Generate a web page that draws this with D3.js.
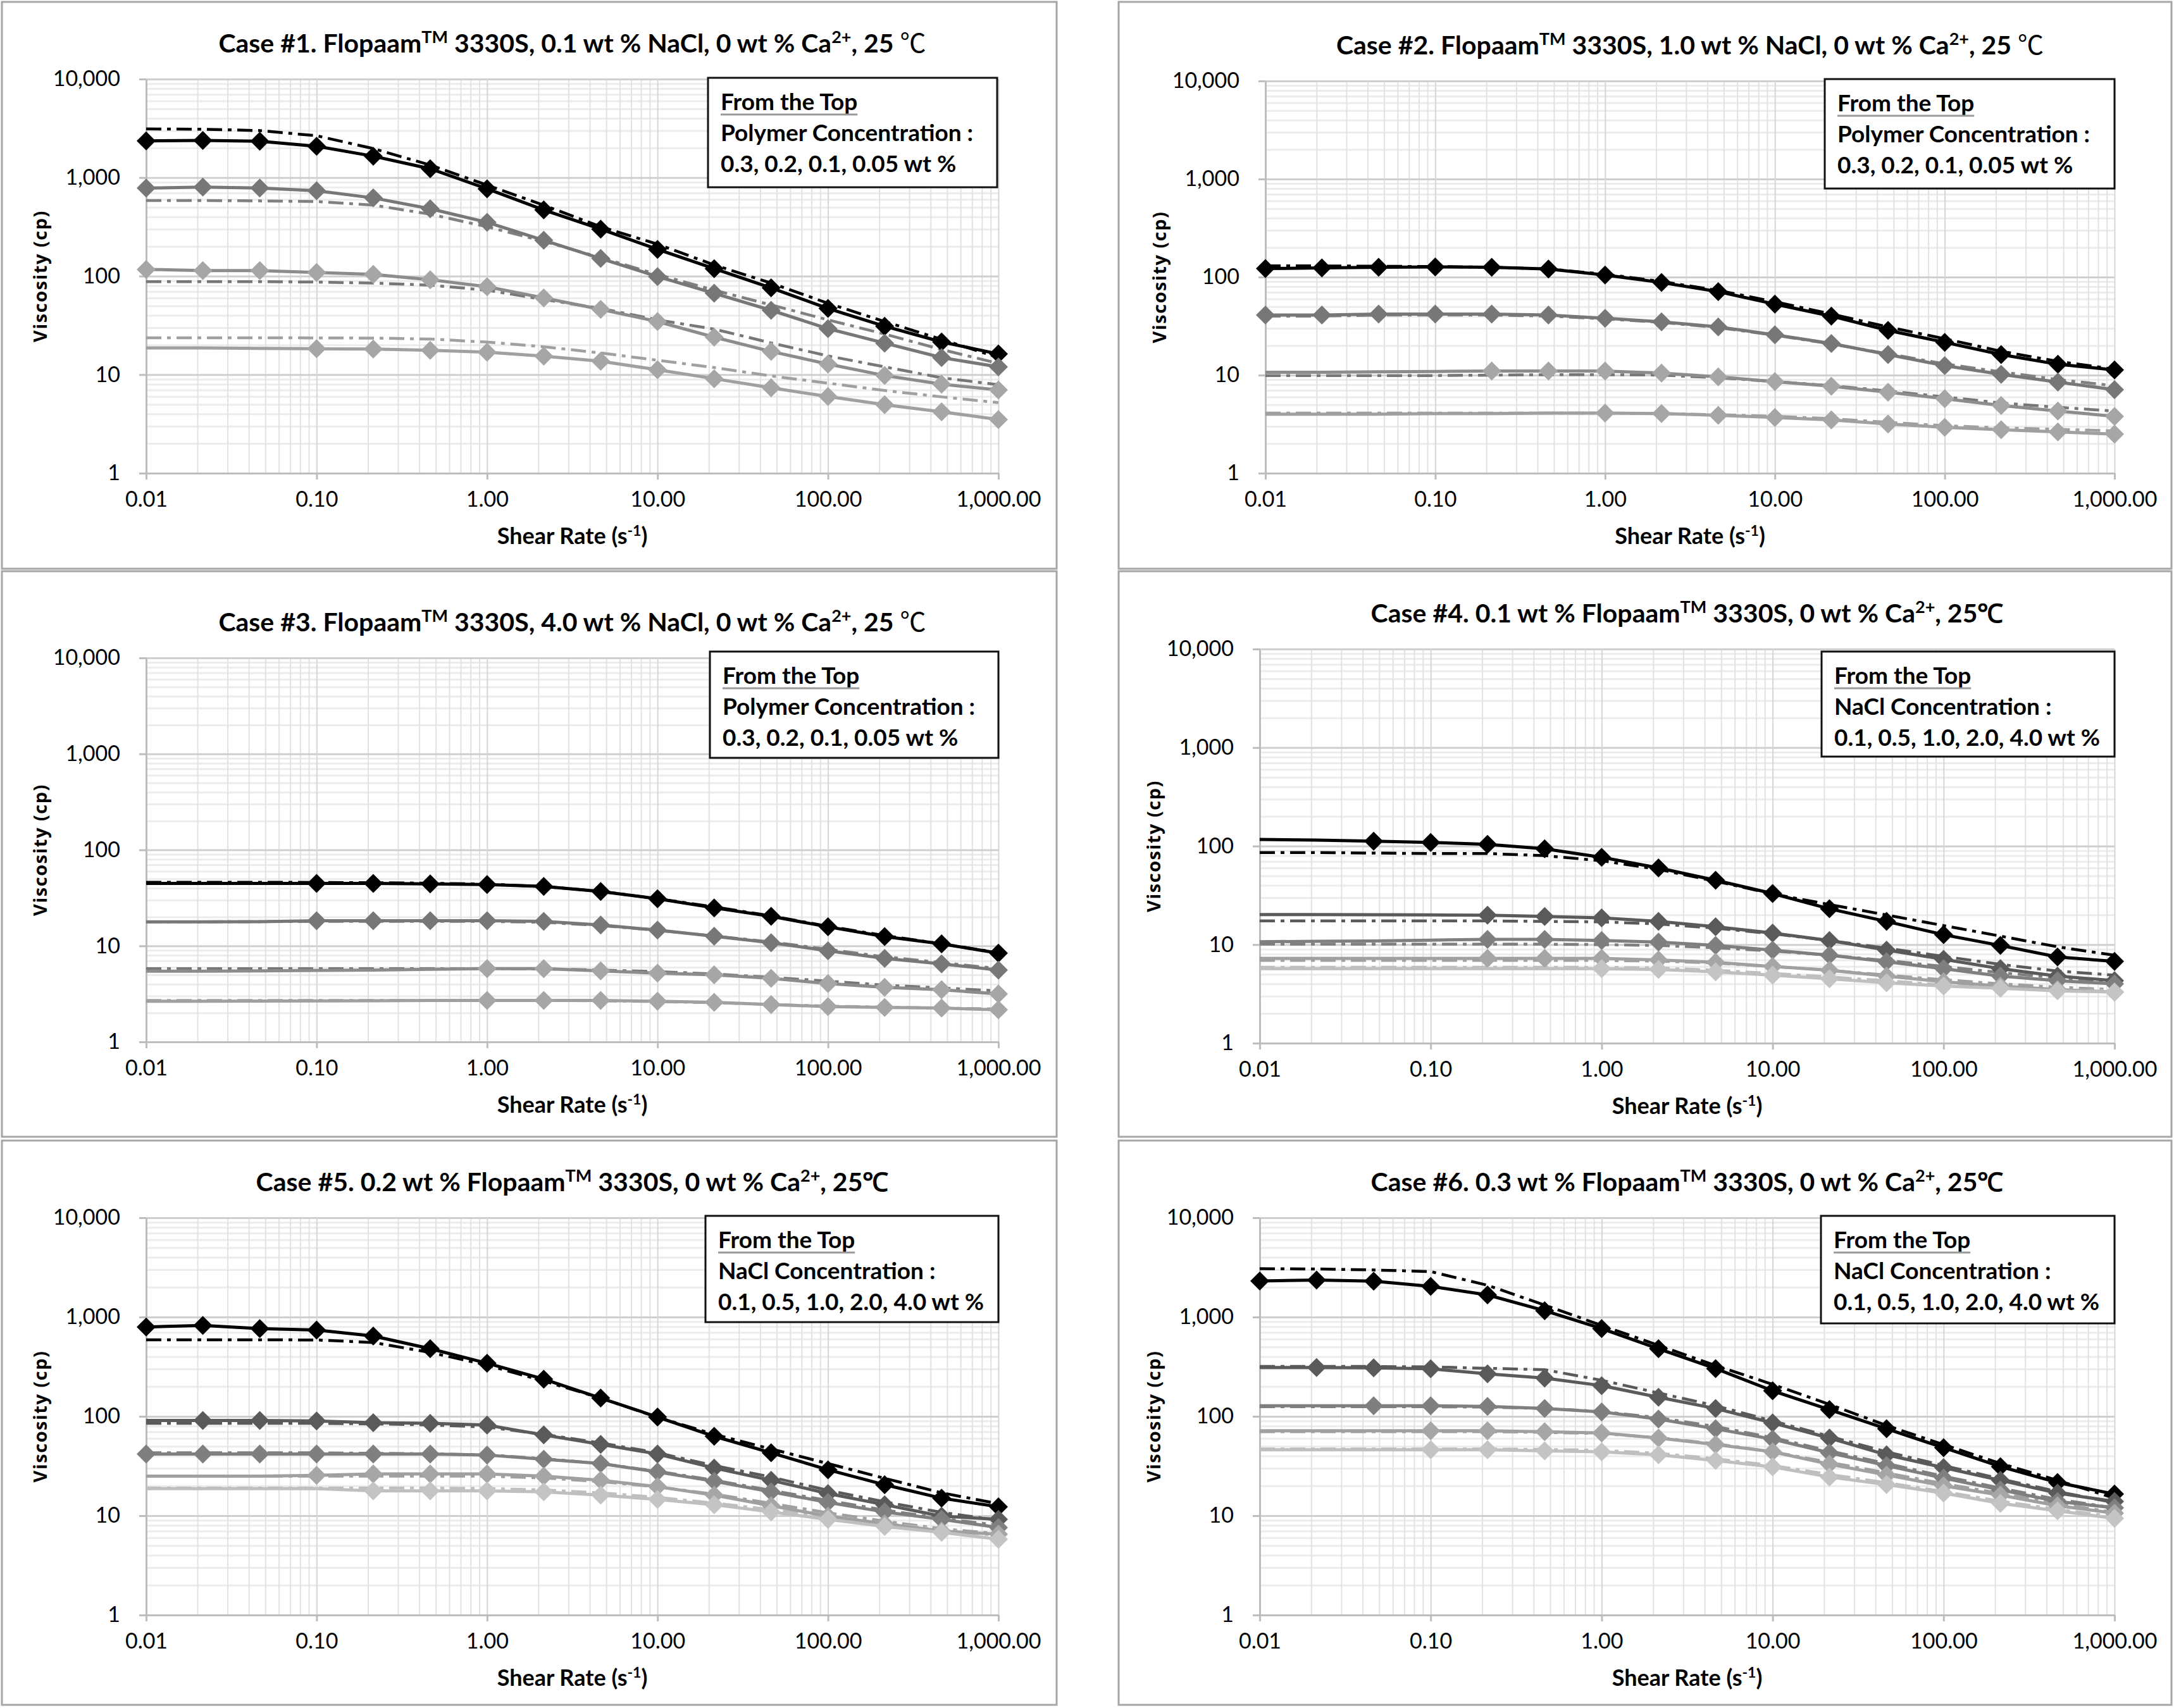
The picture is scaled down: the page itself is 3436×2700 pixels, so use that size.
<!DOCTYPE html>
<html>
<head>
<meta charset="utf-8">
<script src="https://cdn.jsdelivr.net/npm/d3@7/dist/d3.min.js"></script>
<style>
  body { margin: 0; background: #fff; }
  svg { display: block; }
</style>
</head>
<body>
<svg id="chart" width="3436" height="2700"></svg>
<script>
// shear rates shared by every series (3 points per decade)
var shearRate = [0.01, 0.0215, 0.0464, 0.1, 0.215, 0.464, 1, 2.15, 4.64, 10, 21.5, 46.4, 100, 215, 464, 1000];

var xTicks = [0.01, 0.1, 1, 10, 100, 1000];
var xTickLabels = ["0.01", "0.10", "1.00", "10.00", "100.00", "1,000.00"];
var yTicks = [1, 10, 100, 1000, 10000];
var yTickLabels = ["1", "10", "100", "1,000", "10,000"];

// Case #1 : 0.1 wt % NaCl, polymer 0.3 / 0.2 / 0.1 / 0.05 wt %
var case1Measured = [
  [2360, 2380, 2340, 2080, 1650, 1230, 770, 470, 300, 187, 119, 76, 47, 31, 21.5, 16.2],
  [783, 800, 783, 736, 622, 483, 352, 231, 151, 99, 67, 45, 29.3, 20.9, 14.9, 12],
  [117, 114, 114, 109, 104, 92, 78, 60, 46, 34.6, 24, 17.2, 12.8, 9.8, 8.0, 7.0],
  [18.7, 18.7, 18.5, 18.3, 18.2, 17.7, 16.9, 15.4, 13.7, 11.2, 9.1, 7.35, 6.0, 4.95, 4.2, 3.5]
];
var case1Model = [
  [3120, 3100, 3000, 2660, 1970, 1340, 840, 525, 317, 211, 130, 85, 53, 34.6, 22.8, 14.9],
  [586, 586, 580, 572, 526, 425, 317, 226, 154, 104, 72, 51, 36, 25.8, 18, 13],
  [88, 88, 88, 87, 85, 81, 72, 58, 47, 36, 29, 21, 15.5, 12, 9.3, 7.9],
  [23.7, 23.7, 23.7, 23.6, 23.5, 23, 21.4, 19.2, 16.6, 14, 11.8, 9.7, 8.2, 6.9, 5.95, 5.2]
];
var case1FirstMarker = [0, 0, 0, 3];

// Case #2 : 1.0 wt % NaCl
var case2Measured = [
  [122, 124, 126, 127, 126, 121, 105, 88, 71, 53, 40, 28.6, 21.6, 16.2, 12.9, 11.3],
  [41, 41, 42, 42, 42, 41, 38, 35, 31, 25.8, 21, 16.2, 12.5, 10.2, 8.5, 7.1],
  [10.7, 10.7, 10.8, 10.9, 11, 11, 11, 10.5, 9.6, 8.6, 7.7, 6.7, 5.75, 4.9, 4.3, 3.8],
  [4.0, 4.0, 4.0, 4.05, 4.05, 4.1, 4.1, 4.05, 3.9, 3.7, 3.5, 3.17, 2.94, 2.78, 2.64, 2.5]
];
var case2Model = [
  [130, 130, 129, 128, 126, 121, 107, 90, 73, 56, 42, 31, 23.5, 17.5, 13.8, 11.5],
  [40, 40, 41, 41, 41, 40, 37.5, 34.5, 30.5, 25.5, 20.8, 16.5, 13, 10.8, 9.0, 7.8],
  [9.9, 9.9, 9.9, 9.9, 10, 10.1, 10.1, 10, 9.4, 8.6, 7.8, 6.9, 6.0, 5.2, 4.7, 4.3],
  [4.1, 4.1, 4.1, 4.1, 4.1, 4.1, 4.1, 4.05, 3.95, 3.8, 3.6, 3.3, 3.05, 2.9, 2.8, 2.7]
];
var case2FirstMarker = [0, 0, 4, 6];

// Case #3 : 4.0 wt % NaCl
var case3Measured = [
  [44.8, 44.8, 44.8, 44.8, 44.8, 44.3, 43.5, 41.6, 36.9, 31, 24.9, 20.3, 15.8, 12.5, 10.5, 8.4],
  [17.8, 17.8, 17.9, 18.3, 18.3, 18.3, 18.3, 18, 16.5, 14.6, 12.6, 10.8, 8.9, 7.4, 6.5, 5.6],
  [5.46, 5.46, 5.5, 5.55, 5.6, 5.7, 5.8, 5.8, 5.5, 5.2, 5.0, 4.6, 4.05, 3.7, 3.5, 3.16],
  [2.65, 2.65, 2.66, 2.67, 2.68, 2.7, 2.7, 2.7, 2.7, 2.65, 2.58, 2.45, 2.33, 2.29, 2.25, 2.16]
];
var case3Model = [
  [46, 46, 46, 45.8, 45.5, 45, 44, 41.5, 37, 31, 25.5, 20.5, 16, 12.8, 10.5, 8.5],
  [17.8, 17.8, 17.9, 18, 18, 18, 18, 17.6, 16.3, 14.5, 12.7, 11, 9.2, 7.7, 6.7, 5.8],
  [5.8, 5.8, 5.8, 5.8, 5.8, 5.8, 5.8, 5.75, 5.6, 5.4, 5.1, 4.7, 4.3, 3.9, 3.65, 3.4],
  [2.7, 2.7, 2.7, 2.7, 2.7, 2.7, 2.7, 2.7, 2.68, 2.63, 2.56, 2.45, 2.36, 2.3, 2.25, 2.2]
];
var case3FirstMarker = [3, 3, 6, 6];

// Case #4 : 0.1 wt % polymer, NaCl 0.1 / 0.5 / 1.0 / 2.0 / 4.0 wt %
var case4Measured = [
  [117, 115, 112, 109, 104, 94, 77, 60, 45, 33, 23.1, 17.2, 12.6, 9.8, 7.5, 6.75],
  [20.2, 20.2, 20.1, 20, 19.9, 19.3, 18.7, 17.2, 15.2, 13.1, 11, 8.8, 7.1, 5.7, 4.8, 4.3],
  [10.7, 10.8, 10.9, 11.1, 11.3, 11.3, 11, 10.6, 9.8, 8.8, 7.8, 6.7, 5.7, 4.8, 4.3, 4.0],
  [7.25, 7.25, 7.25, 7.25, 7.25, 7.25, 7.25, 7.0, 6.6, 6.0, 5.5, 4.8, 4.2, 3.8, 3.5, 3.3],
  [5.7, 5.7, 5.7, 5.7, 5.7, 5.7, 5.7, 5.6, 5.3, 4.9, 4.5, 4.1, 3.8, 3.6, 3.4, 3.3]
];
var case4Model = [
  [86, 86, 85, 84, 84, 80, 71, 58, 44, 32.7, 25.5, 20, 15.6, 12.2, 9.5, 7.8],
  [17.4, 17.4, 17.4, 17.4, 17.4, 17.2, 17, 16.2, 14.7, 12.9, 11, 9.2, 7.6, 6.3, 5.4, 4.9],
  [10.1, 10.1, 10.1, 10.1, 10.1, 10.1, 10, 9.8, 9.3, 8.6, 7.8, 6.9, 6.0, 5.2, 4.6, 4.2],
  [6.9, 6.9, 6.9, 6.9, 6.9, 6.9, 6.9, 6.8, 6.5, 6.0, 5.5, 4.9, 4.4, 4.0, 3.7, 3.5],
  [5.9, 5.9, 5.9, 5.9, 5.9, 5.9, 5.9, 5.8, 5.5, 5.1, 4.7, 4.3, 3.9, 3.7, 3.5, 3.4]
];
var case4FirstMarker = [2, 4, 4, 4, 6];

// Case #5 : 0.2 wt % polymer
var case5Measured = [
  [794, 823, 766, 740, 644, 480, 343, 237, 153, 98.5, 63, 43, 29, 20.5, 15, 12.3],
  [91, 91, 91, 90, 86.4, 85, 81.8, 65, 52.3, 41.8, 30.2, 22.7, 16.7, 12.9, 9.9, 9.2],
  [41.8, 41.8, 41.8, 41.8, 41.8, 41.8, 40.8, 37, 33.5, 27.6, 22.2, 17.4, 13.6, 10.9, 9.2, 7.6],
  [25, 25, 25, 25.5, 26.3, 26.3, 26.3, 25, 22.7, 19.6, 16.1, 12.6, 9.9, 8.3, 7.0, 6.5],
  [18.7, 18.7, 18.7, 18.7, 17.8, 17.8, 17.8, 17.4, 16.1, 14.6, 12.9, 10.9, 9.2, 7.8, 6.8, 5.8]
];
var case5Model = [
  [590, 590, 590, 588, 555, 440, 328, 227, 153, 98, 66, 47, 33.5, 23.8, 17, 13.2],
  [85, 85, 85, 85, 84, 82, 78, 66, 54, 43, 32, 24.5, 18, 13.8, 10.8, 9.0],
  [43, 43, 43, 43, 42.5, 42, 41, 37.5, 33.5, 28, 22.8, 18, 14.2, 11.4, 9.4, 8.0],
  [25, 25, 25, 25, 25, 25, 25, 24, 22, 19.5, 16.5, 13.3, 10.7, 8.8, 7.4, 6.6],
  [19, 19, 19, 19, 19, 19, 18.8, 18.2, 17, 15.3, 13.4, 11.5, 9.8, 8.4, 7.2, 6.3]
];
var case5FirstMarker = [0, 1, 0, 3, 4];

// Case #6 : 0.3 wt % polymer
var case6Measured = [
  [2306, 2360, 2295, 2038, 1670, 1160, 766, 480, 303, 181, 117, 75, 48.4, 31.2, 21.6, 16.5],
  [311, 311, 308, 301, 268, 243, 204, 156, 120, 86, 60.5, 41, 30.5, 22.7, 16.9, 13.9],
  [128, 128, 128, 128, 126, 120, 111, 94, 75, 59, 43, 32, 23.9, 18.2, 13.9, 12],
  [71.6, 71.6, 71.6, 71.6, 71.6, 70, 68, 60.5, 52, 44, 33, 25.7, 20, 16.1, 12.6, 10.6],
  [46.2, 46.2, 46.2, 46.2, 46.2, 45, 44, 41, 36, 31, 24.5, 20.6, 16.9, 13.3, 11.2, 9.4]
];
var case6Model = [
  [3070, 3050, 2980, 2870, 2090, 1320, 824, 520, 325, 210, 132, 81, 52, 33.6, 22.7, 15],
  [318, 318, 318, 315, 305, 295, 231, 172, 128, 90, 63, 44, 32, 23.5, 17.5, 13.5],
  [125, 125, 125, 125, 124, 120, 112, 97, 79, 61, 45, 33.5, 25, 19, 14.6, 12],
  [70, 70, 70, 70, 70, 69, 67, 61, 53, 44, 34.5, 27, 21, 16.8, 13.2, 10.8],
  [47, 47, 47, 47, 47, 46.5, 45.5, 42.5, 37.5, 32, 26, 21.5, 17.5, 14, 11.6, 9.8]
];
var case6FirstMarker = [0, 1, 2, 3, 3];

// titles : [text, kind]  kind 1 = superscript, 2 = wide CJK degree sign
var titles = [
  [["Case #1. Flopaam", 0], ["TM", 1], [" 3330S, 0.1 wt % NaCl, 0 wt % Ca", 0], ["2+", 1], [", 25 ", 0], ["℃", 2]],
  [["Case #2. Flopaam", 0], ["TM", 1], [" 3330S, 1.0 wt % NaCl, 0 wt % Ca", 0], ["2+", 1], [", 25 ", 0], ["℃", 2]],
  [["Case #3. Flopaam", 0], ["TM", 1], [" 3330S, 4.0 wt % NaCl, 0 wt % Ca", 0], ["2+", 1], [", 25 ", 0], ["℃", 2]],
  [["Case #4. 0.1 wt % Flopaam", 0], ["TM", 1], [" 3330S, 0 wt % Ca", 0], ["2+", 1], [", 25℃", 0]],
  [["Case #5. 0.2 wt % Flopaam", 0], ["TM", 1], [" 3330S, 0 wt % Ca", 0], ["2+", 1], [", 25℃", 0]],
  [["Case #6. 0.3 wt % Flopaam", 0], ["TM", 1], [" 3330S, 0 wt % Ca", 0], ["2+", 1], [", 25℃", 0]]
];
var polymerLegend = ["From the Top", "Polymer Concentration :", "0.3, 0.2, 0.1, 0.05 wt %"];
var naclLegend = ["From the Top", "NaCl Concentration :", "0.1, 0.5, 1.0, 2.0, 4.0 wt %"];

var polymerStyle = {
  line: ["#000000", "#777777", "#8c8c8c", "#a0a0a0"],
  marker: ["#000000", "#777777", "#a6a6a6", "#a6a6a6"],
  model: ["#000000", "#808080", "#777777", "#a0a0a0"]
};
var naclStyle = {
  line: ["#000000", "#5a5a5a", "#7f7f7f", "#a0a0a0", "#bfbfbf"],
  marker: ["#000000", "#5a5a5a", "#7f7f7f", "#a6a6a6", "#c4c4c4"],
  model: ["#000000", "#5a5a5a", "#7f7f7f", "#a0a0a0", "#bfbfbf"]
};

var panels = [
  {frame: [3, 3, 1667, 896], plot: {l: 231, r: 1578, t: 125, b: 748}, box: [1119, 123, 457, 173],
   measured: case1Measured, model: case1Model, first: case1FirstMarker, style: polymerStyle, legend: polymerLegend},
  {frame: [1768, 3, 1664, 896], plot: {l: 2000, r: 3342, t: 128, b: 748}, box: [2884, 125, 458, 173],
   measured: case2Measured, model: case2Model, first: case2FirstMarker, style: polymerStyle, legend: polymerLegend},
  {frame: [3, 903, 1667, 894], plot: {l: 231, r: 1578, t: 1040, b: 1647}, box: [1122, 1030, 456, 168],
   measured: case3Measured, model: case3Model, first: case3FirstMarker, style: polymerStyle, legend: polymerLegend},
  {frame: [1768, 903, 1664, 894], plot: {l: 1991, r: 3342, t: 1026, b: 1649}, box: [2879, 1030, 463, 166],
   measured: case4Measured, model: case4Model, first: case4FirstMarker, style: naclStyle, legend: naclLegend},
  {frame: [3, 1803, 1667, 892], plot: {l: 231, r: 1578, t: 1925, b: 2553}, box: [1115, 1922, 463, 168],
   measured: case5Measured, model: case5Model, first: case5FirstMarker, style: naclStyle, legend: naclLegend},
  {frame: [1768, 1803, 1664, 892], plot: {l: 1991, r: 3342, t: 1925, b: 2553}, box: [2878, 1922, 464, 170],
   measured: case6Measured, model: case6Model, first: case6FirstMarker, style: naclStyle, legend: naclLegend}
];

var svg = d3.select("#chart");
var FONT = "Lato, 'Open Sans', sans-serif";

// minor grid values 2..9 in every decade
function minorValues(lo, hi) {
  var out = [];
  for (var d = lo; d < hi; d *= 10) {
    for (var m = 2; m <= 9; m++) out.push(+(m * d).toPrecision(3));
  }
  return out;
}

function drawPanel(p, idx) {
  var g = svg.append("g");
  var pl = p.plot;

  g.append("rect")
    .attr("x", p.frame[0]).attr("y", p.frame[1])
    .attr("width", p.frame[2]).attr("height", p.frame[3])
    .attr("fill", "#fff").attr("stroke", "#a6a6a6").attr("stroke-width", 3);

  var x = d3.scaleLog().domain([0.01, 1000]).range([pl.l, pl.r]);
  var y = d3.scaleLog().domain([1, 10000]).range([pl.b, pl.t]);

  // grids
  function grid(axis, cls, color, width) {
    var a = g.append("g").attr("class", cls).call(axis);
    a.select(".domain").remove();
    a.selectAll("line").attr("stroke", color).attr("stroke-width", width);
    return a;
  }
  grid(d3.axisLeft(y).tickValues(minorValues(1, 10000)).tickSize(-(pl.r - pl.l)).tickFormat(""),
    "ygrid-minor", "#ececec", 3).attr("transform", "translate(" + pl.l + ",0)");
  grid(d3.axisBottom(x).tickValues(minorValues(0.01, 1000)).tickSize(-(pl.b - pl.t)).tickFormat(""),
    "xgrid-minor", "#e2e2e2", 2).attr("transform", "translate(0," + pl.b + ")");
  grid(d3.axisLeft(y).tickValues(yTicks).tickSize(-(pl.r - pl.l)).tickFormat(""),
    "ygrid", "#cfcfcf", 3).attr("transform", "translate(" + pl.l + ",0)");
  grid(d3.axisBottom(x).tickValues(xTicks).tickSize(-(pl.b - pl.t)).tickFormat(""),
    "xgrid", "#d6d6d6", 2).attr("transform", "translate(0," + pl.b + ")");

  // axes
  var ya = g.append("g").attr("transform", "translate(" + pl.l + ",0)")
    .call(d3.axisLeft(y).tickValues(yTicks).tickSize(11).tickSizeOuter(0).tickPadding(30)
      .tickFormat(function(d, i) { return yTickLabels[i]; }));
  var xa = g.append("g").attr("transform", "translate(0," + pl.b + ")")
    .call(d3.axisBottom(x).tickValues(xTicks).tickSize(10).tickSizeOuter(0).tickPadding(19)
      .tickFormat(function(d, i) { return xTickLabels[i]; }));
  [ya, xa].forEach(function(a) {
    a.select(".domain").attr("stroke", "#bdbdbd").attr("stroke-width", 3);
    a.selectAll(".tick line").attr("stroke", "#bdbdbd").attr("stroke-width", 3);
    a.selectAll("text").attr("fill", "#000").style("font-family", FONT).style("font-size", "34px");
  });

  // series
  var line = d3.line()
    .x(function(d, i) { return x(shearRate[i]); })
    .y(function(d) { return y(d); });

  p.model.forEach(function(s, k) {
    g.append("path").attr("d", line(s))
      .attr("fill", "none").attr("stroke", p.style.model[k]).attr("stroke-width", 4.5)
      .attr("stroke-dasharray", "24,9,6,9");
  });
  var diamond = d3.symbol().type(d3.symbolSquare).size(450);
  p.measured.forEach(function(s, k) {
    g.append("path").attr("d", line(s))
      .attr("fill", "none").attr("stroke", p.style.line[k]).attr("stroke-width", 5);
    var pts = s.map(function(v, i) { return {v: v, i: i}; })
      .filter(function(d) { return d.i >= p.first[k]; });
    g.selectAll(null).data(pts).enter().append("path")
      .attr("d", diamond)
      .attr("transform", function(d) {
        return "translate(" + x(shearRate[d.i]) + "," + y(d.v) + ") rotate(45)";
      })
      .attr("fill", p.style.marker[k]);
  });

  // legend box
  var bx = p.box;
  g.append("rect").attr("x", bx[0]).attr("y", bx[1]).attr("width", bx[2]).attr("height", bx[3])
    .attr("fill", "#fff").attr("stroke", "#111").attr("stroke-width", 3);
  p.legend.forEach(function(t, k) {
    var tx = g.append("text").attr("x", bx[0] + 20).attr("y", bx[1] + 51 + k * 49)
      .style("font-family", FONT).style("font-weight", "bold").style("font-size", "37px")
      .text(t);
    if (k === 0) {
      var w = tx.node().getComputedTextLength();
      g.append("line").attr("x1", bx[0] + 20).attr("x2", bx[0] + 20 + w)
        .attr("y1", bx[1] + 58).attr("y2", bx[1] + 58)
        .attr("stroke", "#9a9a9a").attr("stroke-width", 3);
    }
  });

  // title
  var title = g.append("text").attr("x", (pl.l + pl.r) / 2).attr("y", pl.t - 42)
    .attr("text-anchor", "middle")
    .style("font-family", FONT).style("font-weight", "bold").style("font-size", "41px");
  var shift = 0;
  titles[idx].forEach(function(seg) {
    var ts = title.append("tspan").text(seg[0]);
    if (seg[1] === 1) {
      ts.attr("dy", -15 - shift).style("font-size", "27px");
      shift = -15;
    } else {
      if (shift) ts.attr("dy", -shift);
      shift = 0;
      if (seg[1] === 2) ts.style("font-family", "'Noto Sans CJK KR'").style("font-weight", "normal");
    }
  });

  // axis titles
  var xl = g.append("text").attr("x", (pl.l + pl.r) / 2).attr("y", pl.b + 112)
    .attr("text-anchor", "middle")
    .style("font-family", FONT).style("font-weight", "bold").style("font-size", "36px");
  xl.append("tspan").text("Shear Rate (s");
  xl.append("tspan").attr("dy", -13).style("font-size", "23px").text("-1");
  xl.append("tspan").attr("dy", 13).text(")");

  g.append("text")
    .attr("transform", "translate(" + (pl.l - 157) + "," + ((pl.t + pl.b) / 2) + ") rotate(-90)")
    .attr("text-anchor", "middle")
    .style("font-family", "'Open Sans', sans-serif").style("font-weight", "bold").style("font-size", "29px")
    .style("letter-spacing", "1.5px")
    .text("Viscosity (cp)");
}

panels.forEach(drawPanel);
</script>
</body>
</html>
